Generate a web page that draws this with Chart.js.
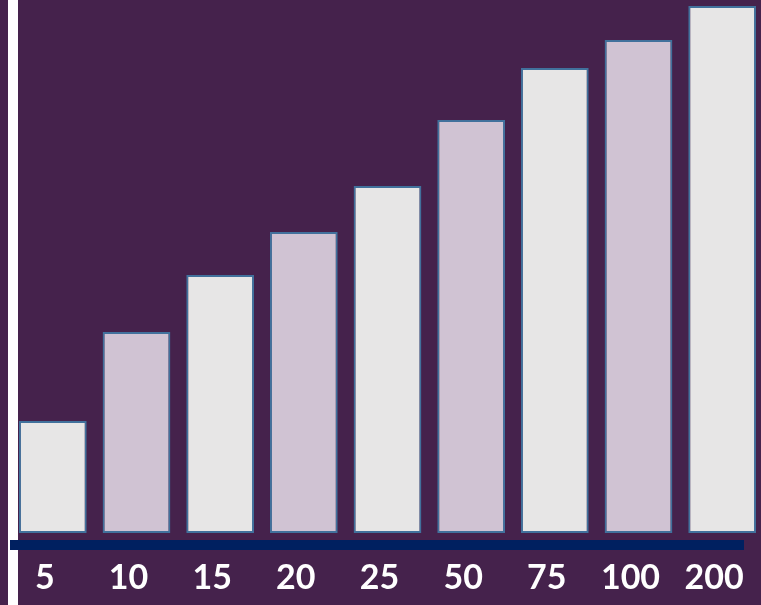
<!DOCTYPE html>
<html>
<head>
<meta charset="utf-8">
<script src="https://cdn.jsdelivr.net/npm/chart.js@4/dist/chart.umd.min.js"></script>
<style>
  html, body { margin: 0; padding: 0; background: #45224C; overflow: hidden; }
  #wrap { position: relative; width: 764px; height: 605px; }
</style>
</head>
<body>
<div id="wrap"><canvas id="c" width="764" height="605"></canvas></div>
<script>
const categories = ["5", "10", "15", "20", "25", "50", "75", "100", "200"];
const values = [112, 201, 258, 301, 347, 413, 465, 493, 527];
const barColors = ["#E7E6E6", "#D0C3D3", "#E7E6E6", "#D0C3D3", "#E7E6E6", "#D0C3D3", "#E7E6E6", "#D0C3D3", "#E7E6E6"];
const yMax = 533;

const decor = {
  id: 'decor',
  beforeDatasetsDraw(chart) {
    const { ctx } = chart;
    ctx.save();
    ctx.fillStyle = '#FFFFFF';
    ctx.fillRect(8, 0, 10, chart.height);
    ctx.restore();
  },
  afterDatasetsDraw(chart) {
    const { ctx } = chart;
    const y = chart.scales.y;
    const base = y.getPixelForValue(0);
    ctx.save();
    ctx.fillStyle = '#002060';
    ctx.fillRect(10, base + 7, 734, 10);
    ctx.restore();
  }
};

new Chart(document.getElementById('c'), {
  type: 'bar',
  data: {
    labels: categories,
    datasets: [{
      data: values,
      backgroundColor: barColors,
      borderColor: '#41719C',
      borderWidth: 2,
      borderSkipped: false,
      barPercentage: 0.81,
      categoryPercentage: 1.0
    }]
  },
  options: {
    responsive: false,
    animation: false,
    layout: { padding: { left: 11, right: 0, top: 0, bottom: 0 } },
    plugins: { legend: { display: false }, tooltip: { enabled: false }, title: { display: false } },
    scales: {
      x: {
        grid: { display: false, drawTicks: false },
        border: { display: false },
        ticks: {
          color: '#FFFFFF',
          font: { family: 'Lato', weight: 'bold', size: 34 },
          padding: 25,
          labelOffset: -8,
          maxRotation: 0,
          autoSkip: false
        },
        afterFit(scale) {
          scale.height = 72;
          scale.paddingLeft = 0;
          scale.paddingRight = 0;
        }
      },
      y: {
        display: false,
        min: 0,
        max: yMax
      }
    }
  },
  plugins: [decor]
});
</script>
</body>
</html>
